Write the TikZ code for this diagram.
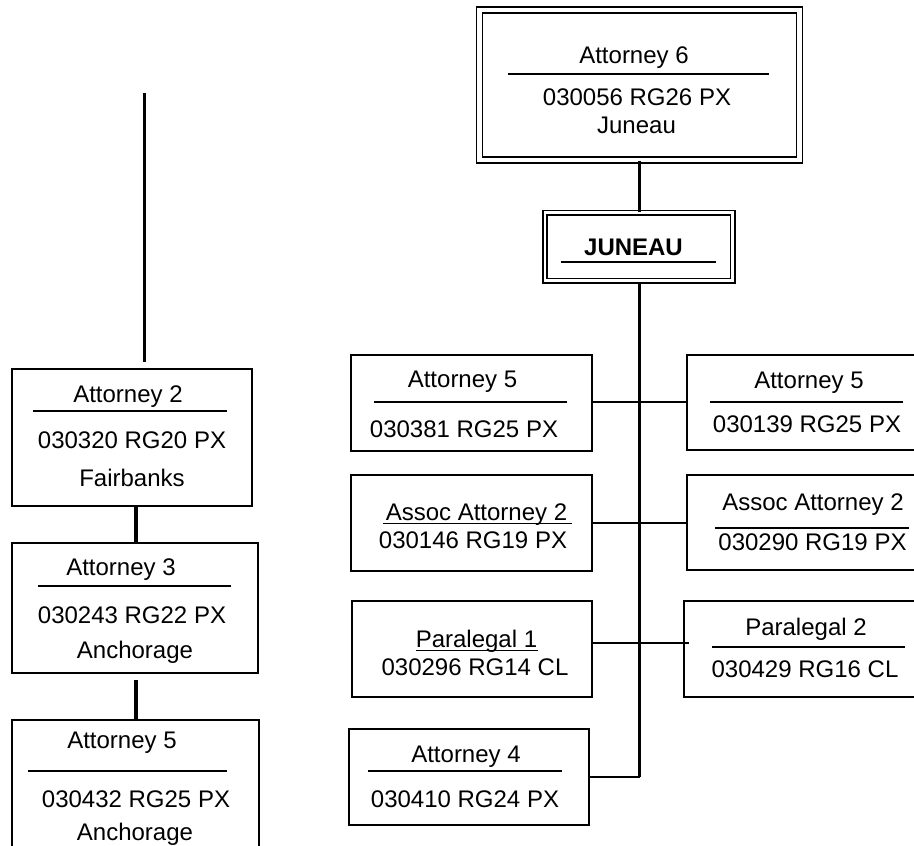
\documentclass[tikz,border=0pt]{standalone}
\usepackage{fontspec}
\setmainfont{Liberation Sans}
\begin{document}
\begin{tikzpicture}[x=1pt,y=-1pt,
  box/.style={draw,line width=2pt,rectangle,inner sep=0pt},
  dbox/.style={draw,line width=1.8pt,double,rectangle,inner sep=0pt},
  lbl/.style={anchor=base,inner sep=0pt,font=\fontsize{24}{28}\selectfont},
  sep/.style={line width=1.9pt},
  conn/.style={line width=2.2pt},
  thickconn/.style={line width=3.2pt}]
\useasboundingbox (0,0) rectangle (914,846);
\clip (0,0) rectangle (914,846);

% ---- top box and JUNEAU
\node[dbox,double distance=4.2pt,minimum width=320pt,minimum height=150pt] (top) at (639.5,85) {};
\node[lbl] (t1) at (634,63) {Attorney 6};
\draw[sep] (508,74) -- (769,74);
\node[lbl] (t2) at (637,105) {030056 RG26 PX};
\node[lbl] (t3) at (636.5,133) {Juneau};

\node[dbox,double distance=2.4pt,minimum width=187.5pt,minimum height=68pt] (jun) at (638.75,246.5) {};
\node[lbl,font=\fontsize{24}{28}\selectfont\bfseries] (j1) at (633.5,255) {JUNEAU};
\draw[sep] (561,262) -- (716,262);

% ---- middle column
\node[box,minimum width=241pt,minimum height=96pt] (m1) at (471.5,403) {};
\node[lbl] (m1a) at (462.5,387) {Attorney 5};
\draw[sep] (374,402) -- (567,402);
\node[lbl] (m1b) at (464,437) {030381 RG25 PX};

\node[box,minimum width=241pt,minimum height=96pt] (m2) at (471.5,523) {};
\node[lbl] (m2a) at (476.5,520) {Assoc Attorney 2};
\draw[line width=1.5pt] (383,523.5) -- (572,523.5);
\node[lbl] (m2b) at (473,548) {030146 RG19 PX};

\node[box,minimum width=240pt,minimum height=96pt] (m3) at (472,649) {};
\node[lbl] (m3a) at (476.5,647) {Paralegal 1};
\draw[line width=1.5pt] (416,650.5) -- (538,650.5);
\node[lbl] (m3b) at (475,675) {030296 RG14 CL};

\node[box,minimum width=240pt,minimum height=96pt] (m4) at (469,777) {};
\node[lbl] (m4a) at (466,762) {Attorney 4};
\draw[sep] (368,771) -- (562,771);
\node[lbl] (m4b) at (465,807) {030410 RG24 PX};

% ---- right column (cut at right edge)
\node[box,minimum width=253pt,minimum height=95pt] (r1) at (813.5,402.5) {};
\node[lbl] (r1a) at (809,388) {Attorney 5};
\draw[sep] (710,402) -- (903,402);
\node[lbl] (r1b) at (807,432) {030139 RG25 PX};

\node[box,minimum width=253pt,minimum height=95pt] (r2) at (813.5,522.5) {};
\node[lbl] (r2a) at (813,510) {Assoc Attorney 2};
\draw[sep] (715,528) -- (909,528);
\node[lbl] (r2b) at (812.5,550) {030290 RG19 PX};

\node[box,minimum width=256pt,minimum height=96pt] (r3) at (812,649) {};
\node[lbl] (r3a) at (806,635) {Paralegal 2};
\draw[sep] (712,647) -- (905,647);
\node[lbl] (r3b) at (805,677) {030429 RG16 CL};

% ---- left column
\coordinate (ltop) at (144.5,93);
\coordinate (lbot) at (144.5,362);
\draw[conn] (ltop) -- (lbot);

\node[box,minimum width=240pt,minimum height=137pt] (b2) at (132,437.5) {};
\node[lbl] (b2a) at (128,402) {Attorney 2};
\draw[sep] (33,411) -- (227,411);
\node[lbl] (b2b) at (132,448) {030320 RG20 PX};
\node[lbl] (b2c) at (132,486) {Fairbanks};

\node[box,minimum width=246pt,minimum height=130pt] (b3) at (135,608) {};
\node[lbl] (b3a) at (121,575) {Attorney 3};
\draw[sep] (38,586) -- (231,586);
\node[lbl] (b3b) at (132,623) {030243 RG22 PX};
\node[lbl] (b3c) at (135,658) {Anchorage};

\node[box,minimum width=247pt,minimum height=180pt] (b5) at (135.5,810) {};
\node[lbl] (b5a) at (122,748) {Attorney 5};
\draw[sep] (28,771) -- (227,771);
\node[lbl] (b5b) at (136,807) {030432 RG25 PX};
\node[lbl] (b5c) at (135,840) {Anchorage};

% ---- connectors
\draw[conn] (top.south) -- (top.south |- jun.north);
\coordinate (spinebot) at (m4.east -| 639.5,0);
\draw[line width=3pt] (639.5,283) -- (spinebot);
\draw[conn] (m4.east) -- (spinebot);
\draw[conn] ([yshift=1pt]m1.east) -- ([yshift=1pt]m1.east -| r1.west);
\draw[conn] (m2.east) -- (m2.east -| r2.west);
\draw[line width=1.4pt] ([xshift=-2pt,yshift=6pt]m3.east) -- ([xshift=6pt,yshift=6pt]r3.west);
\draw[thickconn] ([xshift=4pt,yshift=2pt]b2.south) -- ([xshift=1pt]b3.north);
\draw[thickconn] ([xshift=1pt,yshift=-6pt]b3.south) -- ([xshift=0.5pt]b5.north);
\end{tikzpicture}
\end{document}
